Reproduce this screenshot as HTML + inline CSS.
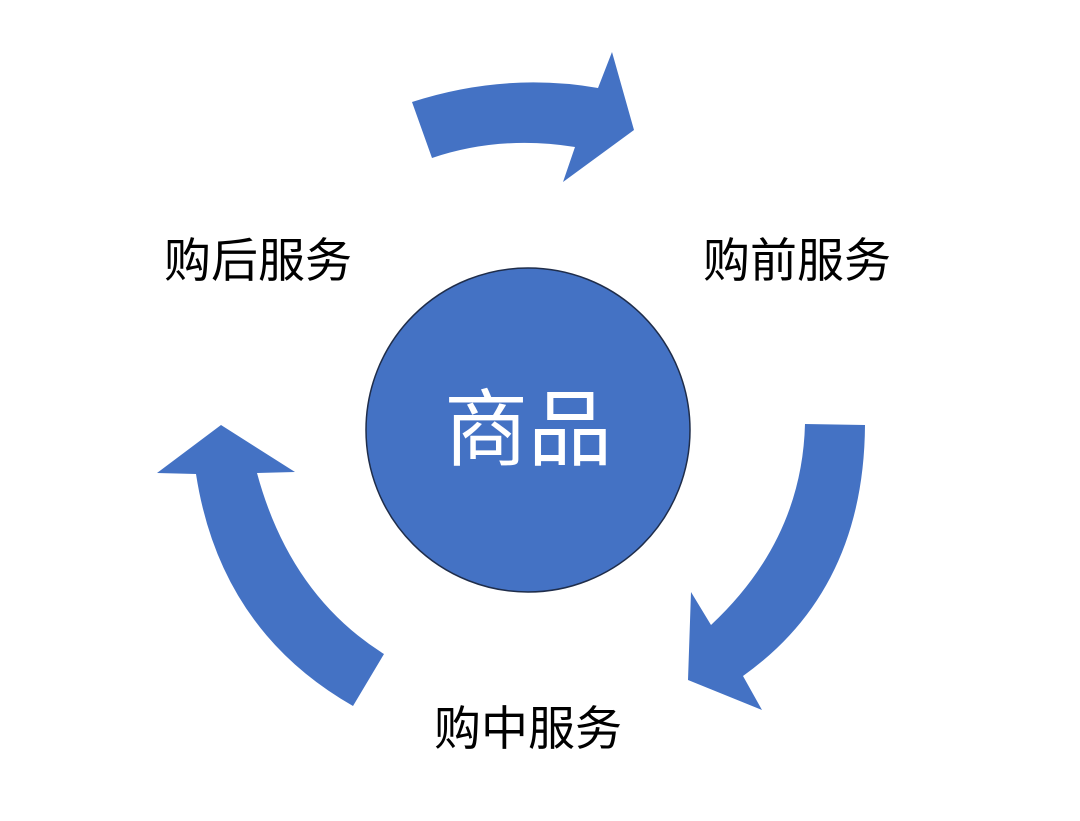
<!DOCTYPE html>
<html><head><meta charset="utf-8"><style>
html,body{margin:0;padding:0;background:#fff;}
body{width:1080px;height:816px;overflow:hidden;}
</style></head><body>
<svg width="1080" height="816" viewBox="0 0 1080 816" xmlns="http://www.w3.org/2000/svg">
<g fill="#4472C4">
<path d="M412,102 Q505,72 598,88 L612,52 L634,130 L563,182 L575,147 Q500,135 432,158 Z"/>
<path d="M805,424 L865,425 Q864,590 743,676 L762,710 L688,680 L691,592 L711,625 Q802,540 805,424 Z"/>
<path d="M221,425 L295,472 L257,473 Q290,595 384,654 L353,706 Q220,630 196,474 L157,473 Z"/>
</g>
<circle cx="528" cy="430" r="162" fill="#4472C4" stroke="#1f2d4a" stroke-width="1.5"/>
<g font-family="'Liberation Sans','Noto Sans CJK SC',sans-serif">
<text x="528" y="459" font-size="84" fill="#fff" text-anchor="middle">商品</text>
<text x="258" y="277" font-size="47" fill="#000" text-anchor="middle">购后服务</text>
<text x="797" y="277" font-size="47" fill="#000" text-anchor="middle">购前服务</text>
<text x="528" y="745" font-size="47" fill="#000" text-anchor="middle">购中服务</text>
</g>
</svg>
</body></html>
